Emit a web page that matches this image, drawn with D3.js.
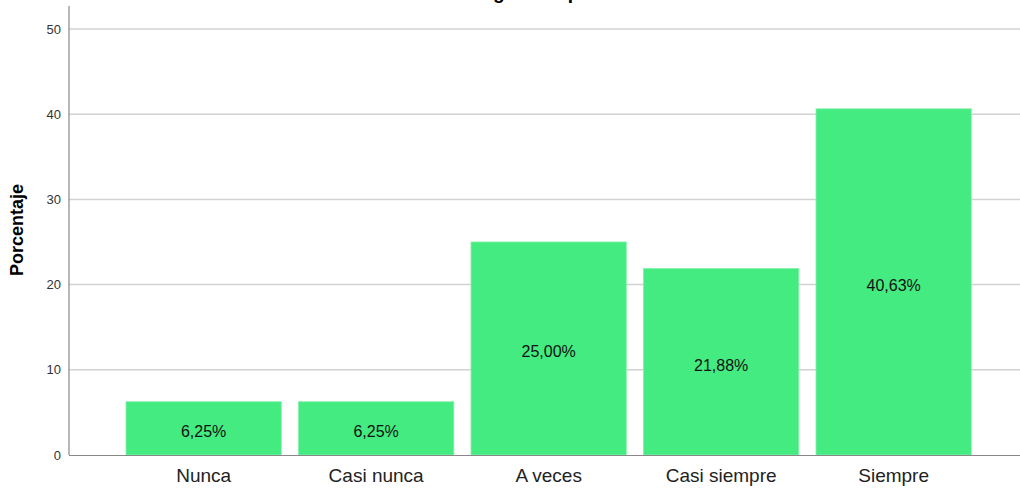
<!DOCTYPE html>
<html>
<head>
<meta charset="utf-8">
<script src="https://cdn.jsdelivr.net/npm/d3@7"></script>
<style>
  body { margin: 0; background: #fff; }
  text { font-family: "Liberation Sans", Arial, sans-serif; }
</style>
</head>
<body>
<div id="vis"></div>
<script>
var categories = ["Nunca", "Casi nunca", "A veces", "Casi siempre", "Siempre"];
var values = [6.25, 6.25, 25.00, 21.88, 40.63];
var yTicks = [0, 10, 20, 30, 40, 50];

var width = 1020, height = 489;

var svg = d3.select("#vis").append("svg")
    .attr("width", width)
    .attr("height", height);

// scales
var y = d3.scaleLinear()
    .domain([0, 50])
    .range([455, 29]);

var x = d3.scaleBand()
    .domain(categories)
    .range([117.4, 979.9])
    .paddingInner(0.1)
    .paddingOuter(0.05);

// title (clipped at top like the original)
svg.append("text")
    .attr("x", 552)
    .attr("y", -1)
    .attr("text-anchor", "middle")
    .style("font-size", "19px")
    .style("font-weight", "bold")
    .style("fill", "#000")
    .text("Seguridad pública");

// gridlines
svg.append("g")
    .selectAll("line")
    .data(yTicks.filter(function(d) { return d > 0 }))
    .enter()
    .append("line")
    .attr("x1", 69)
    .attr("x2", width)
    .attr("y1", function(d) { return y(d) })
    .attr("y2", function(d) { return y(d) })
    .attr("stroke", "#d2d2d2")
    .attr("stroke-width", 1.5);

// y axis
var yAxis = svg.append("g")
    .attr("transform", "translate(69,0)")
    .call(d3.axisLeft(y).tickValues(yTicks).tickSize(0).tickPadding(8));
yAxis.select(".domain").remove();
yAxis.selectAll("text")
    .style("font-size", "13px")
    .style("fill", "#333")
    .style("font-family", "'Liberation Sans', Arial, sans-serif");

svg.append("line")
    .attr("x1", 69).attr("x2", 69)
    .attr("y1", 6).attr("y2", 455)
    .attr("stroke", "#888")
    .attr("stroke-width", 1.2);

// bars
var bars = svg.append("g")
    .selectAll("g")
    .data(categories)
    .enter()
    .append("g");

bars.append("rect")
    .attr("x", function(d) { return x(d) })
    .attr("y", function(d, i) { return y(values[i]) })
    .attr("width", x.bandwidth())
    .attr("height", function(d, i) { return y(0) - y(values[i]) })
    .attr("fill", "#43eb80")
    .attr("stroke", "#7ff0a8")
    .attr("stroke-width", 0.8);

bars.append("text")
    .attr("x", function(d) { return x(d) + x.bandwidth() / 2 })
    .attr("y", function(d, i) { return (y(values[i]) + y(0)) / 2 })
    .attr("dy", "0.55em")
    .attr("text-anchor", "middle")
    .style("font-size", "16px")
    .style("fill", "#111")
    .text(function(d, i) { return values[i].toFixed(2).replace(".", ",") + "%" });

// x axis baseline
svg.append("line")
    .attr("x1", 69).attr("x2", width)
    .attr("y1", 455.5).attr("y2", 455.5)
    .attr("stroke", "#888")
    .attr("stroke-width", 1.2);

svg.append("g")
    .selectAll("text")
    .data(categories)
    .enter()
    .append("text")
    .attr("x", function(d) { return x(d) + x.bandwidth() / 2 })
    .attr("y", 482)
    .attr("text-anchor", "middle")
    .style("font-size", "19px")
    .style("fill", "#222")
    .text(function(d) { return d });

// y label
svg.append("text")
    .attr("transform", "translate(23,230) rotate(-90)")
    .attr("text-anchor", "middle")
    .style("font-size", "18px")
    .style("font-weight", "bold")
    .style("fill", "#000")
    .text("Porcentaje");
</script>
</body>
</html>
